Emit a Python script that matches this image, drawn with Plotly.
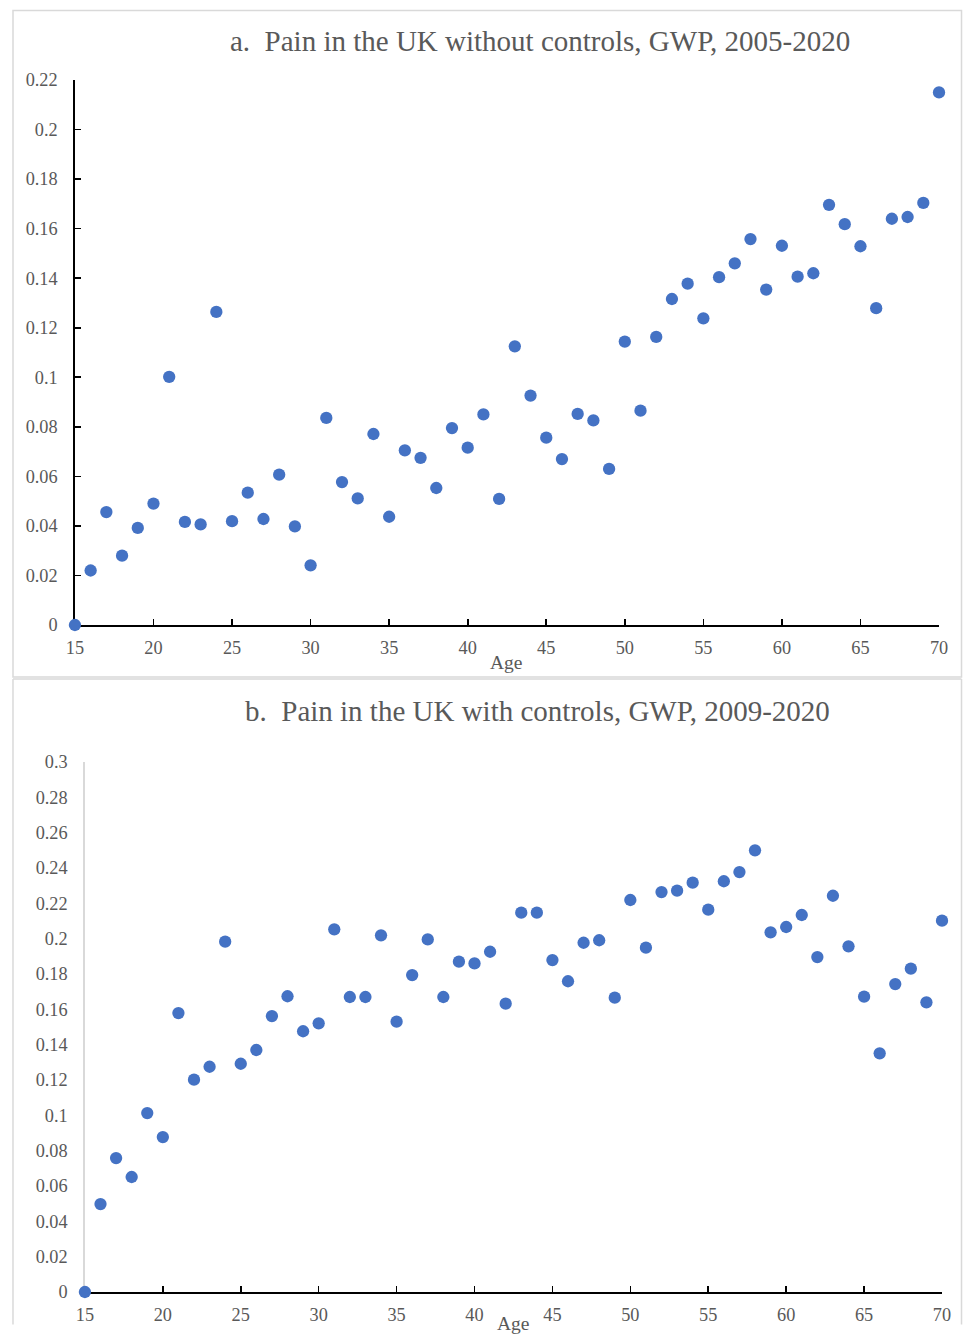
import plotly.graph_objects as go

# ---------------- data ----------------
ages = list(range(15, 71))

pain_no_controls = [
    0.0, 0.022, 0.0456, 0.028, 0.0392, 0.049, 0.1002, 0.0416, 0.0406, 0.1264,
    0.0419, 0.0534, 0.0428, 0.0607, 0.0398, 0.0241, 0.0836, 0.0577, 0.0511, 0.0771,
    0.0437, 0.0705, 0.0675, 0.0553, 0.0795, 0.0716, 0.0850, 0.0509, 0.1125, 0.0926,
    0.0756, 0.0670, 0.0852, 0.0826, 0.0630, 0.1144, 0.0865, 0.1163, 0.1316, 0.1378,
    0.1238, 0.1404, 0.1460, 0.1558, 0.1354, 0.1531, 0.1406, 0.1420, 0.1696, 0.1618,
    0.1529, 0.1279, 0.1640, 0.1647, 0.1704, 0.2150,
]

pain_with_controls = [
    0.0, 0.0498, 0.0758, 0.0651, 0.1013, 0.0877, 0.1579, 0.1202, 0.1275, 0.1983,
    0.1292, 0.1370, 0.1562, 0.1674, 0.1476, 0.1521, 0.2053, 0.1670, 0.1670, 0.2019,
    0.1530, 0.1794, 0.1996, 0.1670, 0.1870, 0.1860, 0.1926, 0.1632, 0.2147, 0.2147,
    0.1879, 0.1759, 0.1977, 0.1991, 0.1666, 0.2219, 0.1949, 0.2264, 0.2272, 0.2317,
    0.2164, 0.2325, 0.2377, 0.2500, 0.2036, 0.2066, 0.2134, 0.1896, 0.2243, 0.1957,
    0.1672, 0.1351, 0.1743, 0.1830, 0.1640, 0.2102,
]

x_tick_vals = [15, 20, 25, 30, 35, 40, 45, 50, 55, 60, 65, 70]
x_tick_text = ["15", "20", "25", "30", "35", "40", "45", "50", "55", "60", "65", "70"]

y_a_tick_vals = [0, 0.02, 0.04, 0.06, 0.08, 0.1, 0.12, 0.14, 0.16, 0.18, 0.2, 0.22]
y_a_tick_text = ["0", "0.02", "0.04", "0.06", "0.08", "0.1", "0.12", "0.14", "0.16", "0.18", "0.2", "0.22"]

y_b_tick_vals = [0, 0.02, 0.04, 0.06, 0.08, 0.1, 0.12, 0.14, 0.16, 0.18, 0.2, 0.22, 0.24, 0.26, 0.28, 0.3]
y_b_tick_text = ["0", "0.02", "0.04", "0.06", "0.08", "0.1", "0.12", "0.14", "0.16", "0.18", "0.2",
                 "0.22", "0.24", "0.26", "0.28", "0.3"]

title_a = "a.  Pain in the UK without controls, GWP, 2005-2020"
title_b = "b.  Pain in the UK with controls, GWP, 2009-2020"
x_title = "Age"

# ---------------- layout helpers ----------------
W, H = 971, 1335
FONT = "Liberation Serif, Times New Roman, serif"
TXT = "#595959"
BLUE = "#4472C4"
GRAY = "#d9d9d9"

# the photographed page shows a small inset/scale; positions below are given
# in target-picture pixels and mapped back to page pixels
OX, SX = 9.0, 0.9825
OY, SY = 10.0, 0.985


def px_x(t):
    p = (t - OX) / SX
    return min(max(p, 0.5), W - 0.5) / W


def px_y(t):
    p = (t - OY) / SY
    return 1 - min(max(p, 0.5), H - 0.5) / H


fig = go.Figure()

marker = dict(color=BLUE, size=12.3, line=dict(width=0))

fig.add_trace(go.Scatter(x=ages, y=pain_no_controls, mode="markers", marker=marker,
                         xaxis="x", yaxis="y", cliponaxis=False, showlegend=False))
fig.add_trace(go.Scatter(x=ages, y=pain_with_controls, mode="markers", marker=marker,
                         xaxis="x2", yaxis="y2", cliponaxis=False, showlegend=False))

tickfont = dict(family=FONT, size=18.3, color=TXT)

common_x = dict(range=[15, 70], tickvals=x_tick_vals, ticktext=x_tick_text,
                showgrid=False, zeroline=False, showline=True, linecolor="black",
                linewidth=1.6, ticks="inside", ticklen=6, tickwidth=1.6, tickcolor="black",
                tickfont=tickfont, layer="below traces", ticklabelstandoff=5)

fig.update_layout(
    width=W, height=H,
    margin=dict(l=0, r=0, t=0, b=0),
    paper_bgcolor="white", plot_bgcolor="white",
    xaxis=dict(domain=[px_x(75), px_x(940)], anchor="y", **common_x),
    yaxis=dict(domain=[px_y(625), px_y(80)], anchor="x", range=[0, 0.22],
               tickvals=y_a_tick_vals, ticktext=y_a_tick_text,
               showgrid=False, zeroline=False, showline=True, linecolor="black",
               linewidth=1.6, ticks="inside", ticklen=6, tickwidth=1.6, tickcolor="black",
               tickfont=tickfont, layer="below traces", ticklabelstandoff=12),
    xaxis2=dict(domain=[px_x(85), px_x(943)], anchor="y2", **common_x),
    yaxis2=dict(domain=[px_y(1292), px_y(762)], anchor="x2", range=[0, 0.3],
                tickvals=y_b_tick_vals, ticktext=y_b_tick_text,
                showgrid=False, zeroline=False, showline=True, linecolor=GRAY,
                linewidth=1.6, ticks="", tickfont=tickfont, layer="below traces",
                ticklabelstandoff=12),
)

# panel borders
fig.add_shape(type="rect", xref="paper", yref="paper",
              x0=px_x(13), x1=px_x(969), y0=px_y(677), y1=px_y(8),
              line=dict(color=GRAY, width=1.5), fillcolor="rgba(0,0,0,0)", layer="below")
for (xa, ya, xb, yb) in [(13, 679, 965, 679), (13, 679, 13, 1345), (965, 679, 965, 1345)]:
    fig.add_shape(type="line", xref="paper", yref="paper",
                  x0=px_x(xa), y0=px_y(ya), x1=px_x(xb), y1=px_y(yb),
                  line=dict(color=GRAY, width=1.5), layer="below")

# titles
fig.add_annotation(text=title_a, xref="paper", yref="paper", x=px_x(541), y=px_y(41),
                   xanchor="center", yanchor="middle", showarrow=False,
                   font=dict(family=FONT, size=29, color=TXT))
fig.add_annotation(text=title_b, xref="paper", yref="paper", x=px_x(538), y=px_y(711),
                   xanchor="center", yanchor="middle", showarrow=False,
                   font=dict(family=FONT, size=29, color=TXT))

# axis titles
fig.add_annotation(text=x_title, xref="paper", yref="paper", x=px_x(507), y=px_y(662),
                   xanchor="center", yanchor="middle", showarrow=False,
                   font=dict(family=FONT, size=19.5, color=TXT))
fig.add_annotation(text=x_title, xref="paper", yref="paper", x=px_x(514), y=px_y(1323),
                   xanchor="center", yanchor="middle", showarrow=False,
                   font=dict(family=FONT, size=19.5, color=TXT))

fig.write_html(
    "out.html",
    config={"displayModeBar": False, "staticPlot": True},
    post_script="document.body.style.margin='0px';"
                "document.documentElement.style.overflow='hidden';",
)
